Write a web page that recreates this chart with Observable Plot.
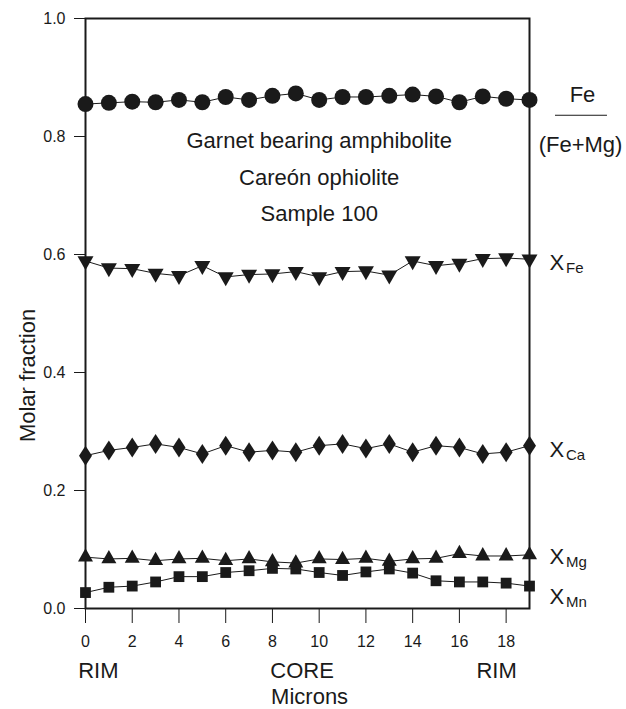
<!DOCTYPE html>
<html><head><meta charset="utf-8">
<script src="https://cdn.jsdelivr.net/npm/d3@7"></script>
<script src="https://cdn.jsdelivr.net/npm/@observablehq/plot@0.6"></script>
<style>body{margin:0;background:#fff}</style>
</head><body><div id="chart"></div>
<script>
// ---- data ----
const microns = [0,1,2,3,4,5,6,7,8,9,10,11,12,13,14,15,16,17,18,19];
const feRatio = [0.855,0.857,0.859,0.858,0.862,0.858,0.867,0.862,0.869,0.873,0.862,0.867,0.867,0.869,0.871,0.868,0.858,0.868,0.864,0.862];
const xFe = [0.589,0.577,0.576,0.568,0.564,0.581,0.562,0.566,0.567,0.571,0.562,0.571,0.572,0.565,0.589,0.581,0.585,0.593,0.594,0.592];
const xCa = [0.259,0.268,0.273,0.279,0.273,0.262,0.276,0.265,0.268,0.265,0.276,0.279,0.271,0.279,0.265,0.276,0.273,0.262,0.265,0.276];
const xMg = [0.087,0.084,0.085,0.081,0.084,0.085,0.081,0.084,0.079,0.077,0.084,0.083,0.085,0.080,0.084,0.085,0.093,0.089,0.089,0.091];
const xMn = [0.027,0.036,0.038,0.045,0.054,0.054,0.061,0.064,0.068,0.067,0.061,0.056,0.062,0.067,0.060,0.047,0.045,0.045,0.043,0.038];

const yTicks = [0,0.2,0.4,0.6,0.8,1.0];
const xTicks = [0,2,4,6,8,10,12,14,16,18];
const regionLabels = ["RIM","CORE","RIM"];
const regionX = [0.55, 9.27, 17.59];
const annotLines = ["Garnet bearing amphibolite","Careón ophiolite","Sample 100"];
const annotX = 10;
const annotY = [0.780, 0.717, 0.656];
const subLabels = ["Fe","Ca","Mg","Mn"];
const subLabelY = [0.573, 0.256, 0.0746, 0.0068];
const ratioNum = "Fe", ratioDen = "(Fe+Mg)";
const ratioNumY = 0.858, ratioBarY = 0.836, ratioDenY = 0.773;

// ---- symbols ----
const poly = pts => ({draw(ctx){ctx.moveTo(pts[0][0],pts[0][1]); for (let i=1;i<pts.length;i++) ctx.lineTo(pts[i][0],pts[i][1]); ctx.closePath();}});
const circleSym = {draw(ctx){ctx.moveTo(8,0); ctx.arc(0,0,8,0,2*Math.PI);}};
const triDown = poly([[-8,-4.7],[8,-4.7],[0,9.3]]);
const triUp = poly([[-7.5,4.4],[7.5,4.4],[0,-8.9]]);
const diamondSym = poly([[0,-10],[6.5,0],[0,10],[-6.5,0]]);
const squareSym = poly([[-5.4,-5.4],[5.4,-5.4],[5.4,5.4],[-5.4,5.4]]);

const series = [
  {key:"ratio", values: feRatio, symbol: circleSym},
  {key:"XFe", values: xFe, symbol: triDown},
  {key:"XCa", values: xCa, symbol: diamondSym},
  {key:"XMg", values: xMg, symbol: triUp},
  {key:"XMn", values: xMn, symbol: squareSym}
];
const rows = series.flatMap(s => s.values.map((v,i) => ({series: s.key, micron: microns[i], value: v})));

const ink = "#1a1a1a";
const chart = Plot.plot({
  width: 626, height: 709,
  marginLeft: 85, marginRight: 97, marginTop: 18, marginBottom: 101,
  x: {domain: [0, 19]},
  y: {domain: [0, 1]},
  style: {fontFamily: "'Liberation Sans', Arial, Helvetica, sans-serif", color: ink, background: "#fff"},
  marks: [
    Plot.axisY({ticks: yTicks, tickSize: 11, tickPadding: 9, tickFormat: d3.format(".1f"), fontSize: 16, label: null}),
    Plot.axisX({ticks: xTicks, tickSize: 15, tickPadding: 12, fontSize: 16, label: null}),
    Plot.line(rows, {x: "micron", y: "value", z: "series", stroke: ink, strokeWidth: 1}),
    ...series.map(s => Plot.dot(rows.filter(r => r.series === s.key), {x: "micron", y: "value", symbol: s.symbol, fill: ink, stroke: "none", r: 8})),
    Plot.frame({stroke: ink, strokeWidth: 2}),
    Plot.text(annotLines, {x: () => annotX, y: (d, i) => annotY[i], text: d => d, fontSize: 22, lineAnchor: "bottom", textAnchor: "middle", fill: ink}),
    Plot.text(["Molar fraction"], {frameAnchor: "left", y: () => 0.395, dx: -58, rotate: -90, text: d => d, fontSize: 22, textAnchor: "middle", lineAnchor: "middle", fill: ink}),
    Plot.text(regionLabels, {x: (d, i) => regionX[i], frameAnchor: "bottom", dy: 69, text: d => d, fontSize: 22, textAnchor: "middle", lineAnchor: "bottom", fill: ink}),
    Plot.text(["Microns"], {x: () => 9.59, frameAnchor: "bottom", dy: 95, text: d => d, fontSize: 22, textAnchor: "middle", lineAnchor: "bottom", fill: ink}),
    Plot.text(subLabels, {x: () => 19, y: (d, i) => subLabelY[i], text: () => "X", dx: 20, textAnchor: "start", lineAnchor: "bottom", fontSize: 22, fill: ink}),
    Plot.text(subLabels, {x: () => 19, y: (d, i) => subLabelY[i], text: d => d, dx: 36.5, dy: 3, textAnchor: "start", lineAnchor: "bottom", fontSize: 15, fill: ink}),
    Plot.text([ratioNum], {x: () => 19, y: () => ratioNumY, text: d => d, dx: 53, textAnchor: "middle", lineAnchor: "bottom", fontSize: 22, fill: ink}),
    Plot.ruleY([ratioBarY], {x1: 19, x2: 23, insetLeft: 26, insetRight: 15.5, stroke: ink, strokeWidth: 1}),
    Plot.text([ratioDen], {x: () => 19, y: () => ratioDenY, text: d => d, dx: 51, textAnchor: "middle", lineAnchor: "bottom", fontSize: 22, fill: ink})
  ]
});
document.getElementById("chart").appendChild(chart);
</script>
</body></html>
